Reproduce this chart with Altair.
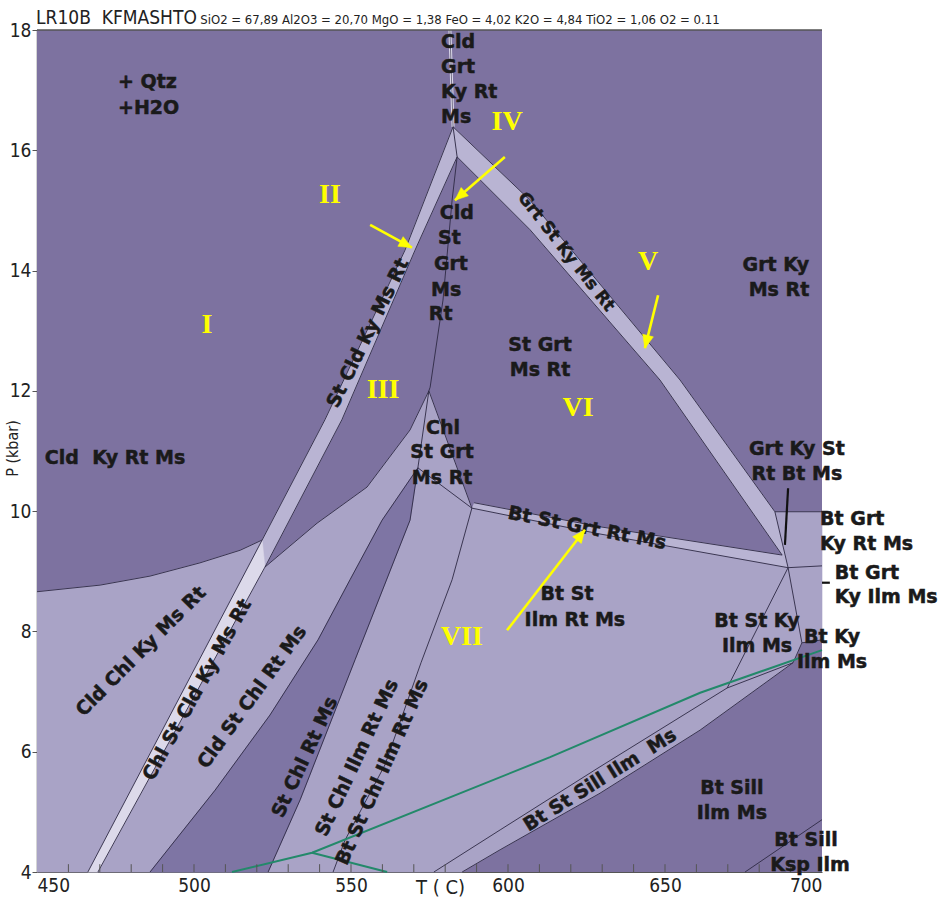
import math
import altair as alt
import pandas as pd

# ---------------- axes ----------------
T_DOMAIN = [450, 700]
P_DOMAIN = [4, 18]
X_LABELS = [450, 500, 550, 600, 650, 700]
X_MINOR = [460, 470, 480, 490, 510, 520, 530, 540, 560, 570, 580, 590,
           610, 620, 630, 640, 660, 670, 680, 690, 500, 550, 600, 650]
Y_LABELS = [4, 6, 8, 10, 12, 14, 16, 18]
W, H = 785, 842

# ---------------- colours ----------------
DARK = "#7D72A0"
LIGHT = "#A9A3C6"
BAND = "#B9B4D3"
PALE = "#DCD9EA"
DARKBAND = "#7E75A4"
LINE = "#2E2944"
GREEN = "#23896A"
YELLOW = "#FFFF00"

# ---------------- boundaries (T degC, P kbar) ----------------
CLD_CURVE = [(450.0, 8.66), (470.1, 8.77), (486.0, 8.92), (501.9, 9.14), (514.7, 9.35), (521.7, 9.52)]
LB_LEFT = [(582.5, 16.39), (567.2, 14.34), (541.7, 11.52), (521.7, 9.52)]
LB_RIGHT = [(583.8, 15.89), (570.4, 14.34), (547.1, 11.52), (522.6, 9.07)]
RB_UPPER = [(582.5, 16.39), (607.0, 15.17), (654.8, 12.18), (685.0, 9.99), (689.2, 9.06)]
RB_LOWER = [(583.8, 15.89), (607.0, 14.68), (648.4, 12.18), (687.3, 9.27)]
TOP_FIELD = [(581.5, 18.0), (582.5, 16.39)]
AB_LINE = [(582.5, 16.39), (583.8, 15.89)]
CENTRAL = [(583.8, 15.89), (582.2, 15.17), (579.3, 13.51), (575.2, 12.06), (574.8, 12.00)]
III_LOW = [(522.6, 9.07), (539.2, 9.80), (555.1, 10.40), (568.8, 11.35), (574.8, 12.00)]
WEDGE_R = [(574.8, 12.00), (588.5, 10.05)]
WEDGE_L = [(574.8, 12.00), (571.3, 10.72)]
WEDGE_B = [(571.3, 10.72), (588.5, 10.05)]
DB_LEFT = [(571.3, 10.72), (559.9, 9.85), (549.7, 8.86), (539.5, 7.86), (524.2, 6.61), (506.7, 5.36), (486.0, 4.0)]
DB_RIGHT = [(571.3, 10.72), (568.8, 9.85), (551.3, 7.53), (533.8, 5.20), (523.6, 4.0)]
BSC_LINE = [(588.5, 10.05), (582.2, 8.86), (572.3, 7.48), (560.8, 5.78), (548.1, 4.53), (544.3, 4.0)]
BSGR_UP = [(589.2, 10.14), (629.3, 9.74), (687.3, 9.27)]
BSGR_LOW = [(588.5, 10.05), (629.3, 9.62), (689.2, 9.06)]
BGKRM_TOP = [(685.0, 9.99), (700.0, 9.99)]
BGKRM_LOW = [(689.2, 9.06), (700.0, 9.09)]
Q_SW = [(689.2, 9.06), (669.8, 7.06)]
Q_SE = [(689.2, 9.06), (693.6, 7.81), (700.0, 7.86)]
KY_DARK = [(693.6, 7.81), (690.8, 7.48)]
SILL_UP = [(576.4, 4.0), (597.5, 4.70), (629.3, 5.75), (669.8, 7.06)]
SILL_LOW = [(585.4, 4.0), (597.5, 4.37), (629.3, 5.31), (661.2, 6.36), (690.8, 7.48)]
KY_SILL = [(669.8, 7.06), (690.8, 7.48)]
KSP_LINE = [(675.5, 4.0), (700.0, 4.87)]
PALE_BAND = [(521.7, 9.52), (522.6, 9.07), (469.4, 4.0), (466.2, 4.0)]
GREEN_1 = [(512.1, 4.0), (537.6, 4.32), (613.4, 5.91), (661.2, 6.98), (700.0, 7.69)]
GREEN_2 = [(537.6, 4.32), (561.5, 4.0)]
POINTER_1 = [(689.2, 10.38), (688.2, 9.44)]
POINTER_2 = [(700.0, 8.81), (702.5, 8.81)]

# ---------------- polygons ----------------
POLY_LIGHT = {
    "main": CLD_CURVE + III_LOW + BSGR_LOW + [(700.0, 9.09), (700.0, 7.86), (693.6, 7.81)]
            + SILL_LOW[::-1] + [(450.0, 4.0)],
    "bgkrm": [(685.0, 9.99), (700.0, 9.99), (700.0, 9.09), (689.2, 9.06)],
}
POLY_DARKBAND = {"stchl": DB_LEFT + DB_RIGHT[::-1]}
POLY_BAND = {
    "left": LB_LEFT + LB_RIGHT[::-1],
    "right": RB_UPPER + RB_LOWER[::-1],
    "bsgr": BSGR_UP + BSGR_LOW[::-1],
}
POLY_PALE = {"pale": PALE_BAND}

BOUNDARIES = {
    "cld": CLD_CURVE, "lbl": LB_LEFT, "lbr": LB_RIGHT, "rbu": RB_UPPER, "rbl": RB_LOWER,
    "ab": AB_LINE, "cen": CENTRAL, "iii": III_LOW, "wr": WEDGE_R, "wl": WEDGE_L, "wb": WEDGE_B,
    "dbl": DB_LEFT, "dbr": DB_RIGHT, "bsc": BSC_LINE, "bsu": BSGR_UP, "bsl": BSGR_LOW,
    "bgt": BGKRM_TOP, "bgl": BGKRM_LOW, "qsw": Q_SW, "qse": Q_SE, "kyd": KY_DARK,
    "su": SILL_UP, "sl": SILL_LOW, "kys": KY_SILL, "ksp": KSP_LINE,
    "pb1": [PALE_BAND[0], PALE_BAND[3]], "pb2": [PALE_BAND[1], PALE_BAND[2]],
}
GREENS = {"g1": GREEN_1, "g2": GREEN_2}
POINTERS = {"p1": POINTER_1, "p2": POINTER_2}

# ---------------- labels ----------------
NBSP = "\u00a0"
LEFT_TEXT = ["+ Qtz", "+H2O", "Cld", "Grt", "Ky Rt", "Ms", "Cld", "St", "Grt", "Ms", "Rt",
             "Cld" + NBSP + " Ky Rt Ms", "Bt Grt", "Ky Rt Ms", "Bt Grt", "Ky Ilm Ms"]
LEFT_T = [475.8, 475.8, 578.7, 578.7, 578.7, 578.7, 578.3, 577.7, 576.4, 575.5, 574.8,
          452.5, 699.4, 699.4, 704.1, 704.1]
LEFT_P = [17.14, 16.70, 17.80, 17.38, 16.97, 16.55, 14.96, 14.54, 14.11, 13.68, 13.28,
          10.88, 9.87, 9.45, 8.97, 8.57]

CTR_TEXT = ["Grt St Ky Ms Rt", "Grt Ky", "Ms Rt", "St Cld Ky Ms Rt", "St Grt", "Ms Rt",
            "Chl", "St Grt", "Ms Rt", "Grt Ky St", "Rt Bt Ms", "Bt St Grt Rt Ms",
            "Bt St", "Ilm Rt Ms", "Bt St Ky", "Ilm Ms", "Bt Ky", "Ilm Ms",
            "Cld Chl Ky Ms Rt", "Chl St Cld Ky Ms Rt", "Cld St Chl Rt Ms", "St Chl Rt Ms",
            "St Chl Ilm Rt Ms", "Bt St Chl Ilm Rt Ms", "Bt St Sill Ilm" + NBSP + " Ms",
            "Bt Sill", "Ilm Ms", "Bt Sill", "Ksp Ilm"]
CTR_T = [618.5, 685.3, 686.3, 555.4, 610.2, 610.2, 579.3, 579.0, 579.0, 692.0, 692.0, 625.2,
         618.8, 621.3, 679.3, 679.3, 703.2, 703.2, 483.1, 501.0, 518.5, 535.3,
         551.9, 559.9, 629.3, 671.3, 671.3, 694.9, 696.2]
CTR_P = [14.31, 14.09, 13.68, 12.96, 12.76, 12.35, 11.38, 10.98, 10.55, 11.03, 10.62, 9.72,
         8.62, 8.19, 8.17, 7.76, 7.91, 7.49, 7.67, 7.03, 6.91, 5.91,
         5.90, 5.66, 5.53, 5.40, 4.98, 4.53, 4.12]
CTR_ANG = [52, 0, 0, 296, 0, 0, 0, 0, 0, 0, 0, 11,
           0, 0, 0, 0, 0, 0, 315, 299, 306, 295,
           295, 294, 328, 0, 0, 0, 0]
CTR_SIZE = [17, 19, 19, 19, 19, 19, 19, 19, 19, 19, 19, 19,
            19, 19, 19, 19, 19, 19, 19, 19, 19, 19,
            19, 19, 19, 19, 19, 19, 19]

NUM_TEXT = ["I", "II", "III", "IV", "V", "VI", "VII"]
NUM_T = [504.1, 543.3, 560.2, 599.7, 644.6, 622.3, 585.3]
NUM_P = [13.09, 15.26, 12.01, 16.47, 14.14, 11.71, 7.91]

ARROW_T0 = [556.1, 599.0, 647.8, 599.7]
ARROW_P0 = [14.76, 15.89, 13.59, 8.02]
ARROW_T1 = [569.4, 583.1, 643.6, 624.5]
ARROW_P1 = [14.38, 15.17, 12.71, 9.69]

TITLE_MAIN = "LR10B" + NBSP + " KFMASHTO"
TITLE_SUB = "SiO2 = 67,89  Al2O3 = 20,70  MgO = 1,38  FeO = 4,02  K2O = 4,84  TiO2 = 1,06  O2 = 0.11"

NARROW = "Liberation Sans Narrow, DejaVu Sans Condensed, Liberation Sans"
BOLD = "DejaVu Sans, Liberation Sans, sans-serif"
SERIF = "Liberation Serif, Times New Roman, serif"

# ---------------- helpers ----------------
XS = alt.Scale(domain=T_DOMAIN, nice=False, zero=False)
YS = alt.Scale(domain=P_DOMAIN, nice=False, zero=False)

X_AXIS = alt.Axis(
    values=X_LABELS, title="T ( C)", ticks=False, grid=False, labelFont=NARROW,
    labelFontSize=19, labelColor="#222", labelPadding=4, domainColor="#555", domainWidth=1.2,
    titleFont=NARROW, titleFontSize=20, titleFontWeight="normal", titleColor="#222",
    titleX=403, titleY=15, titleBaseline="middle")
Y_AXIS = alt.Axis(
    values=Y_LABELS, title="P (kbar)", tickSize=5, tickColor="#555", grid=False,
    labelFont=NARROW, labelFontSize=19, labelColor="#222", labelPadding=1,
    domainColor="#555", domainWidth=1.5, titleFont=NARROW, titleFontSize=16,
    titleFontWeight="normal", titleColor="#222", titleX=-17, titleY=418)


def table(groups):
    rows = []
    for gid, pts in groups.items():
        for i, (t, p) in enumerate(pts):
            rows.append({"id": gid, "o": i, "T": t, "P": p})
    return pd.DataFrame(rows)


def xy():
    return dict(x=alt.X("T:Q", scale=XS, axis=X_AXIS), y=alt.Y("P:Q", scale=YS, axis=Y_AXIS))


def fill_layer(groups, color):
    return alt.Chart(table(groups)).mark_line(
        fill=color, stroke=color, strokeWidth=0.6, interpolate="linear"
    ).encode(**xy(), detail="id:N", order="o:Q")


def line_layer(groups, color, width):
    return alt.Chart(table(groups)).mark_line(
        color=color, strokeWidth=width, interpolate="linear"
    ).encode(**xy(), detail="id:N", order="o:Q")


# ---------------- background & frame ----------------
bg_df = pd.DataFrame({"T": [T_DOMAIN[0]], "T2": [T_DOMAIN[1]], "P": [P_DOMAIN[0]], "P2": [P_DOMAIN[1]]})
background = alt.Chart(bg_df).mark_rect(color=DARK).encode(**xy(), x2="T2:Q", y2="P2:Q")

top_df = pd.DataFrame({"T": [T_DOMAIN[0]], "T2": [T_DOMAIN[1]], "P": [P_DOMAIN[1]]})
top_border = alt.Chart(top_df).mark_rule(color="#555", strokeWidth=1.5).encode(**xy(), x2="T2:Q")

tick_df = pd.DataFrame({"T": X_MINOR, "P": [P_DOMAIN[0]] * len(X_MINOR),
                        "P2": [P_DOMAIN[0] + 0.13] * len(X_MINOR)})
ticks = alt.Chart(tick_df).mark_rule(color="#555", strokeWidth=1).encode(**xy(), y2="P2:Q")

# ---------------- fields ----------------
light = fill_layer(POLY_LIGHT, LIGHT)
darkband = fill_layer(POLY_DARKBAND, DARKBAND)
bands = fill_layer(POLY_BAND, BAND)
pale = fill_layer(POLY_PALE, PALE)
top_field = line_layer({"top": TOP_FIELD}, PALE, 3)
bounds = line_layer(BOUNDARIES, LINE, 0.9)
top_line = line_layer({"top": TOP_FIELD}, LINE, 0.6)
greens = line_layer(GREENS, GREEN, 2)
pointers = line_layer(POINTERS, "#111", 2.2)

# ---------------- text ----------------
TXT = dict(font=BOLD, fontWeight="bold", color="#1a1a1a", stroke="#1a1a1a", strokeWidth=0.5)
left_df = pd.DataFrame({"T": LEFT_T, "P": LEFT_P, "label": LEFT_TEXT})
left_text = alt.Chart(left_df).mark_text(align="left", baseline="middle", fontSize=19, **TXT).encode(
    **xy(), text="label:N")

ctr_df = pd.DataFrame({"T": CTR_T, "P": CTR_P, "label": CTR_TEXT, "ang": CTR_ANG, "fs": CTR_SIZE})
ctr_text = alt.Chart(ctr_df).mark_text(align="center", baseline="middle", **TXT).encode(
    **xy(), text="label:N", angle=alt.Angle("ang:Q", scale=None), size=alt.Size("fs:Q", scale=None))

num_df = pd.DataFrame({"T": NUM_T, "P": NUM_P, "label": NUM_TEXT})
num_text = alt.Chart(num_df).mark_text(
    align="center", baseline="middle", font=SERIF, fontWeight="bold", fontSize=28, color=YELLOW
).encode(**xy(), text="label:N")

# arrows
px_per_T = W / (T_DOMAIN[1] - T_DOMAIN[0])
px_per_P = H / (P_DOMAIN[1] - P_DOMAIN[0])
arrow_ang = []
for t0, p0, t1, p1 in zip(ARROW_T0, ARROW_P0, ARROW_T1, ARROW_P1):
    dx = (t1 - t0) * px_per_T
    dy = -(p1 - p0) * px_per_P
    arrow_ang.append(math.degrees(math.atan2(dx, -dy)) % 360)
arrow_df = pd.DataFrame({"T": ARROW_T0, "P": ARROW_P0, "T2": ARROW_T1, "P2": ARROW_P1})
shafts = alt.Chart(arrow_df).mark_rule(color=YELLOW, strokeWidth=2.6).encode(
    **xy(), x2="T2:Q", y2="P2:Q")
head_df = pd.DataFrame({"T": ARROW_T1, "P": ARROW_P1, "ang": arrow_ang})
heads = alt.Chart(head_df).mark_point(
    shape="M0,0L-0.55,1.3L0.55,1.3Z", filled=True, fill=YELLOW, stroke=YELLOW,
    opacity=1, size=400, strokeWidth=0.5
).encode(**xy(), angle=alt.Angle("ang:Q", scale=None))

# title
title_main = alt.Chart(pd.DataFrame({"T": [449.7], "P": [18.10], "label": [TITLE_MAIN]})).mark_text(
    align="left", baseline="alphabetic", font=NARROW, fontSize=19, color="#222"
).encode(**xy(), text="label:N")
title_sub = alt.Chart(pd.DataFrame({"T": [502.0], "P": [18.10], "label": [TITLE_SUB]})).mark_text(
    align="left", baseline="alphabetic", font=NARROW, fontSize=13, color="#222"
).encode(**xy(), text="label:N")

chart = alt.layer(
    background, light, darkband, bands, pale, top_field, bounds, top_line, greens,
    ticks, top_border, pointers, left_text, ctr_text, num_text, shafts, heads,
    title_main, title_sub,
).properties(
    width=W, height=H,
    autosize=alt.AutoSizeParams(type="none"),
    padding={"left": 37, "top": 30, "right": 123, "bottom": 31},
).configure_view(stroke=None)

chart.save("out.html", embed_options={"renderer": "svg", "actions": False})
